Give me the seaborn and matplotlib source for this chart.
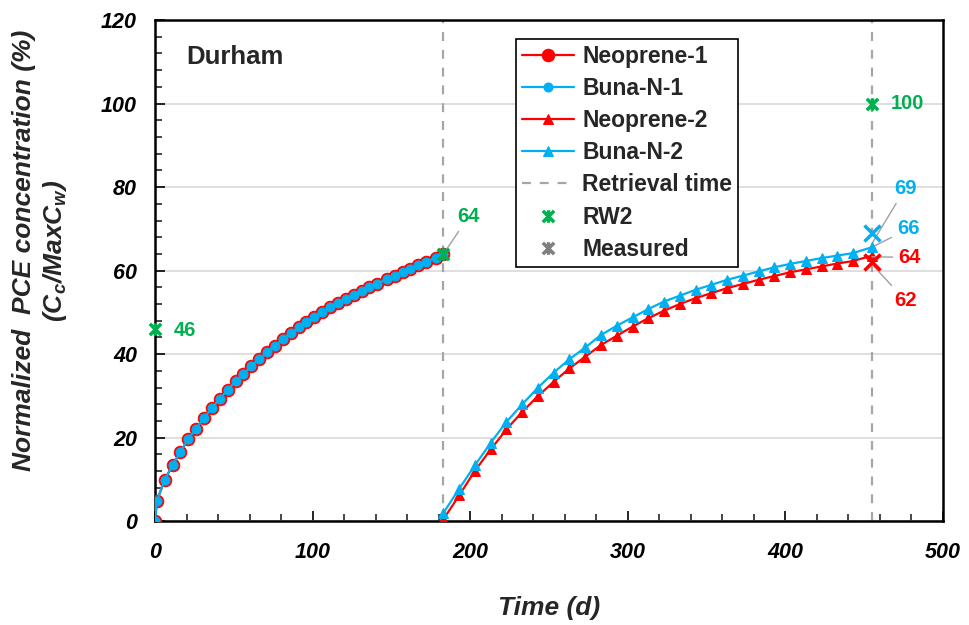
import seaborn as sns
import matplotlib.pyplot as plt
from matplotlib.path import Path
from matplotlib.ticker import MultipleLocator

# ------------------------------------------------------------
# Data
# ------------------------------------------------------------
day1 = [0, 1, 6, 11, 16, 21, 26, 31, 36, 41, 46, 51, 56, 61, 66, 71, 76, 81, 86,
        91, 96, 101, 106, 111, 116, 121, 126, 131, 136, 141, 147, 152, 157, 162,
        167, 172, 178, 183]
neoprene1 = [0, 4.8, 9.9, 13.4, 16.6, 19.7, 22.2, 24.7, 27.1, 29.3, 31.5, 33.5,
             35.3, 37.2, 38.9, 40.5, 42.0, 43.6, 45.0, 46.4, 47.6, 48.9, 50.1,
             51.2, 52.2, 53.2, 54.2, 55.1, 56.0, 56.9, 57.9, 58.8, 59.6, 60.5,
             61.3, 62.1, 63.1, 64.0]
buna1 = list(neoprene1)  # the two first-deployment curves overlap

day2 = [183, 193, 203, 213, 223, 233, 243, 253, 263, 273, 283, 293, 303, 313,
        323, 333, 343, 353, 363, 373, 383, 393, 403, 413, 423, 433, 443, 455]
neoprene2 = [0.5, 6.2, 12.1, 17.2, 22.0, 26.2, 30.0, 33.4, 36.6, 39.4, 42.2, 44.4,
             46.6, 48.6, 50.4, 52.0, 53.4, 54.6, 55.8, 56.8, 57.8, 58.7, 59.6,
             60.3, 61.0, 61.7, 62.3, 63.6]
buna2 = [2.0, 7.8, 13.4, 18.8, 23.8, 28.0, 32.0, 35.6, 38.8, 41.6, 44.6, 46.8,
         48.8, 50.8, 52.6, 54.0, 55.4, 56.6, 57.8, 58.8, 59.8, 60.8, 61.6, 62.3,
         63.0, 63.6, 64.2, 65.6]

retrieval_days = [183, 455]
rw2_days = [0, 183, 455]
rw2_values = [46, 64, 100]
measured_day = 455
measured_neoprene = 62
measured_buna = 69

# ------------------------------------------------------------
# Style
# ------------------------------------------------------------
sns.set_theme(style="white")
plt.rcParams["font.family"] = ["Liberation Sans", "DejaVu Sans"]
plt.rcParams["mathtext.fontset"] = "custom"
plt.rcParams["mathtext.it"] = "Liberation Sans:bold:italic"
plt.rcParams["mathtext.rm"] = "Liberation Sans:bold:italic"

RED = "#FF0000"
BLUE = "#00B0F0"
GREEN = "#00B050"
GRAY = "#A6A6A6"

# x with a vertical bar (Excel "star" marker)
star = Path([(-1, -1), (1, 1), (-1, 1), (1, -1), (0, -1.1), (0, 1.1)],
            [Path.MOVETO, Path.LINETO] * 3)

fig, ax = plt.subplots(figsize=(9.7, 6.25), dpi=100)
fig.subplots_adjust(left=0.16, right=0.972, bottom=0.166, top=0.968)

# ------------------------------------------------------------
# Retrieval time lines
# ------------------------------------------------------------
for d in retrieval_days:
    ax.axvline(d, color=GRAY, linestyle=(0, (4, 4)), linewidth=1.6, zorder=1)
h_retr = ax.lines[-1]

# ------------------------------------------------------------
# Model curves
# ------------------------------------------------------------
sns.lineplot(x=day1, y=neoprene1, color=RED, linewidth=1.6, marker="o",
             markersize=9, markeredgecolor=RED, markerfacecolor=RED, ax=ax, zorder=3)
h_neo1 = ax.lines[-1]
sns.lineplot(x=day1, y=buna1, color=BLUE, linewidth=1.6, marker="o",
             markersize=6.5, markeredgecolor=BLUE, markerfacecolor=BLUE, ax=ax, zorder=4)
h_buna1 = ax.lines[-1]
sns.lineplot(x=day2, y=neoprene2, color=RED, linewidth=1.6, marker="^",
             markersize=7, markeredgecolor=RED, markerfacecolor=RED, ax=ax, zorder=3)
h_neo2 = ax.lines[-1]
sns.lineplot(x=day2, y=buna2, color=BLUE, linewidth=1.6, marker="^",
             markersize=7, markeredgecolor=BLUE, markerfacecolor=BLUE, ax=ax, zorder=4)
h_buna2 = ax.lines[-1]

# ------------------------------------------------------------
# Measured points
# ------------------------------------------------------------
h_rw2, = ax.plot(rw2_days, rw2_values, linestyle="none", marker=star, markersize=9,
                 markeredgewidth=2.5, color=GREEN, markerfacecolor="none",
                 zorder=6, clip_on=False)
ax.plot([measured_day], [measured_buna], linestyle="none", marker="x", markersize=11,
        markeredgewidth=2.5, color=BLUE, zorder=6)
ax.plot([measured_day], [measured_neoprene], linestyle="none", marker="x", markersize=11,
        markeredgewidth=2.5, color=RED, zorder=6)
h_meas, = ax.plot([], [], linestyle="none", marker=star, markersize=9,
                  markeredgewidth=2.5, color="#7F7F7F", markerfacecolor="none")

# ------------------------------------------------------------
# Value labels
# ------------------------------------------------------------
lab = dict(fontsize=14.5, fontweight="bold", va="center", ha="left")
lead = dict(arrowstyle="-", color="#A0A0A0", lw=1, shrinkA=2, shrinkB=0)
ax.text(12, 45.7, "46", color=GREEN, **lab)
ax.annotate("64", xy=(183, 64), xytext=(192, 73), color=GREEN, arrowprops=lead, **lab)
ax.text(467, 100, "100", color=GREEN, **lab)
ax.annotate("69", xy=(455, 66.5), xytext=(469, 79.7), color=BLUE, arrowprops=lead, **lab)
ax.annotate("66", xy=(455, 65.6), xytext=(471, 70), color=BLUE, arrowprops=lead, **lab)
ax.annotate("64", xy=(455, 63.3), xytext=(472, 63.2), color=RED, arrowprops=lead, **lab)
ax.annotate("62", xy=(455, 61.5), xytext=(469, 52.9), color=RED, arrowprops=lead, **lab)

ax.text(20, 111.2, "Durham", fontsize=18.5, fontweight="bold", va="center", ha="left")

# ------------------------------------------------------------
# Axes
# ------------------------------------------------------------
ax.set_xlim(0, 500)
ax.set_ylim(0, 120)
ax.xaxis.set_major_locator(MultipleLocator(100))
ax.xaxis.set_minor_locator(MultipleLocator(20))
ax.yaxis.set_major_locator(MultipleLocator(20))
ax.yaxis.set_minor_locator(MultipleLocator(4))
ax.tick_params(which="major", direction="in", length=7, width=1.2, labelsize=15.5,
               bottom=True, left=True, colors="black")
ax.tick_params(axis="x", which="major", pad=15)
ax.tick_params(axis="y", which="major", pad=13)
ax.tick_params(which="minor", direction="in", length=5, width=1.2,
               bottom=True, left=True)
for t in ax.get_xticklabels() + ax.get_yticklabels():
    t.set_fontweight("bold")
    t.set_fontstyle("italic")

ax.grid(axis="y", which="major", color="#D9D9D9", linewidth=1.2)
ax.grid(axis="x", visible=False)
for s in ax.spines.values():
    s.set_color("black")
    s.set_linewidth(1.8)

ax.set_xlabel("Time (d)", fontsize=19, fontweight="bold", fontstyle="italic", labelpad=24)
ax.set_ylabel("Normalized  PCE concentration (%)\n(C$_{c}$/MaxC$_{w}$)",
              fontsize=19, fontweight="bold", fontstyle="italic", linespacing=1.2)
ax.yaxis.set_label_coords(-0.11, 0.54)

leg = ax.legend([h_neo1, h_buna1, h_neo2, h_buna2, h_retr, h_rw2, h_meas],
                ["Neoprene-1", "Buna-N-1", "Neoprene-2", "Buna-N-2",
                 "Retrieval time", "RW2", "Measured"],
                loc="upper left", bbox_to_anchor=(0.458, 0.962), frameon=True,
                fancybox=False, framealpha=1, edgecolor="black",
                prop={"weight": "bold", "size": 16.5}, handlelength=2.3,
                labelspacing=0.4, borderpad=0.25, handletextpad=0.35,
                borderaxespad=0)
leg.get_frame().set_linewidth(1.2)
leg.set_zorder(10)

plt.savefig("out.png", dpi=100)
